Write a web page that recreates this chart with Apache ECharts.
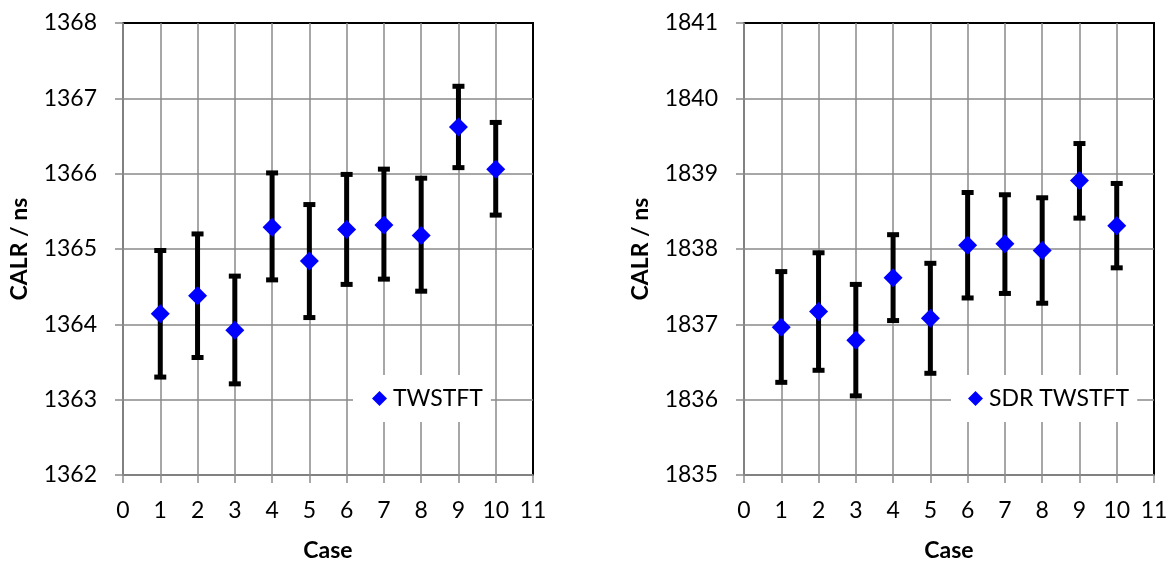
<!DOCTYPE html>
<html>
<head>
<meta charset="utf-8">
<script src="https://cdn.jsdelivr.net/npm/echarts@6/dist/echarts.min.js"></script>
<style>
  html, body { margin: 0; padding: 0; background: #fff; }
  #chart { width: 1169px; height: 562px; }
</style>
</head>
<body>
<div id="chart"></div>
<script>
// case numbers
const cases = [1, 2, 3, 4, 5, 6, 7, 8, 9, 10]

// TWSTFT (left panel)
const twMean = [1364.14, 1364.38, 1363.92, 1365.29, 1364.84, 1365.26, 1365.32, 1365.18, 1366.62, 1366.06]
const twLow = [1363.30, 1363.56, 1363.21, 1364.59, 1364.09, 1364.53, 1364.60, 1364.44, 1366.08, 1365.45]
const twHigh = [1364.98, 1365.20, 1364.64, 1366.01, 1365.59, 1365.99, 1366.06, 1365.94, 1367.16, 1366.68]

// SDR TWSTFT (right panel)
const sdrMean = [1836.96, 1837.17, 1836.79, 1837.62, 1837.08, 1838.05, 1838.07, 1837.98, 1838.91, 1838.31]
const sdrLow = [1836.23, 1836.39, 1836.05, 1837.05, 1836.35, 1837.35, 1837.41, 1837.28, 1838.41, 1837.75]
const sdrHigh = [1837.70, 1837.95, 1837.53, 1838.19, 1837.81, 1838.75, 1838.72, 1838.68, 1839.40, 1838.87]

const leftRange = [1362, 1368]
const rightRange = [1835, 1841]
const caseRange = [0, 11]

const font = 'Lato, "Open Sans", sans-serif'
const gridGrey = '#8a8a8a'
const markerBlue = '#0000ff'

const chart = echarts.init(document.getElementById('chart'))

function xAxisFor(gridIndex) {
  return {
    type: 'value',
    gridIndex,
    min: caseRange[0],
    max: caseRange[1],
    interval: 1,
    name: 'Case',
    nameLocation: 'middle',
    nameGap: 64,
    nameTextStyle: { fontFamily: font, fontSize: 23, fontWeight: 'bold', color: '#000' },
    axisLine: { show: true, lineStyle: { color: gridGrey, width: 1.5 } },
    axisTick: { show: true, inside: false, length: 8, lineStyle: { color: gridGrey, width: 1.5 } },
    axisLabel: { fontFamily: font, fontSize: 23, color: '#000', margin: 24 },
    splitLine: { show: true, showMaxLine: false, lineStyle: { color: gridGrey, width: 1.5 } },
  }
}

function yAxisFor(gridIndex, range) {
  return {
    type: 'value',
    gridIndex,
    min: range[0],
    max: range[1],
    interval: 1,
    name: 'CALR / ns',
    nameLocation: 'middle',
    nameGap: 92,
    nameTextStyle: { fontFamily: font, fontSize: 23, fontWeight: 'bold', color: '#000' },
    axisLine: { show: true, lineStyle: { color: gridGrey, width: 1.5 } },
    axisTick: { show: true, inside: false, length: 8, lineStyle: { color: gridGrey, width: 1.5 } },
    axisLabel: { fontFamily: font, fontSize: 23, color: '#000', margin: 26, formatter: (v) => String(v) },
    splitLine: { show: true, showMaxLine: false, lineStyle: { color: gridGrey, width: 1.5 } },
  }
}

function errorBars(idx, low, high) {
  return {
    type: 'custom',
    xAxisIndex: idx,
    yAxisIndex: idx,
    z: 3,
    data: cases.map((c, i) => [c, low[i], high[i]]),
    renderItem(params, api) {
      const top = api.coord([api.value(0), api.value(2)])
      const bot = api.coord([api.value(0), api.value(1)])
      const half = 6
      const style = { stroke: '#000', lineWidth: 5 }
      return {
        type: 'group',
        children: [
          { type: 'line', shape: { x1: top[0], y1: top[1], x2: bot[0], y2: bot[1] }, style },
          { type: 'line', shape: { x1: top[0] - half, y1: top[1], x2: top[0] + half, y2: top[1] }, style },
          { type: 'line', shape: { x1: bot[0] - half, y1: bot[1], x2: bot[0] + half, y2: bot[1] }, style },
        ],
      }
    },
  }
}

function means(idx, name, mean) {
  return {
    type: 'scatter',
    name,
    xAxisIndex: idx,
    yAxisIndex: idx,
    z: 5,
    symbol: 'diamond',
    symbolSize: 19,
    itemStyle: { color: markerBlue, opacity: 1 },
    data: cases.map((c, i) => [c, mean[i]]),
  }
}

const legendBase = {
  orient: 'vertical',
  icon: 'diamond',
  itemWidth: 15,
  itemHeight: 15,
  itemGap: 0,
  backgroundColor: '#fff',
  z: 10,
  itemStyle: { opacity: 1 },
  textStyle: { fontFamily: font, fontSize: 23, color: '#000', padding: [0, 0, 0, 1] },
}

const gridBase = {
  top: 23, width: 410, height: 452,
  show: true, borderColor: '#000', borderWidth: 2, backgroundColor: 'transparent',
  containLabel: false, outerBoundsMode: 'none',
}

chart.setOption({
  animation: false,
  backgroundColor: '#fff',
  grid: [
    { ...gridBase, left: 123 },
    { ...gridBase, left: 744 },
  ],
  legend: [
    { ...legendBase, data: ['TWSTFT'], left: 353, top: 375, padding: [12, 8, 12, 19] },
    { ...legendBase, data: ['SDR TWSTFT'], left: 951, top: 375, padding: [12, 8, 12, 17] },
  ],
  xAxis: [xAxisFor(0), xAxisFor(1)],
  yAxis: [yAxisFor(0, leftRange), yAxisFor(1, rightRange)],
  series: [
    errorBars(0, twLow, twHigh),
    means(0, 'TWSTFT', twMean),
    errorBars(1, sdrLow, sdrHigh),
    means(1, 'SDR TWSTFT', sdrMean),
  ],
})
</script>
</body>
</html>
